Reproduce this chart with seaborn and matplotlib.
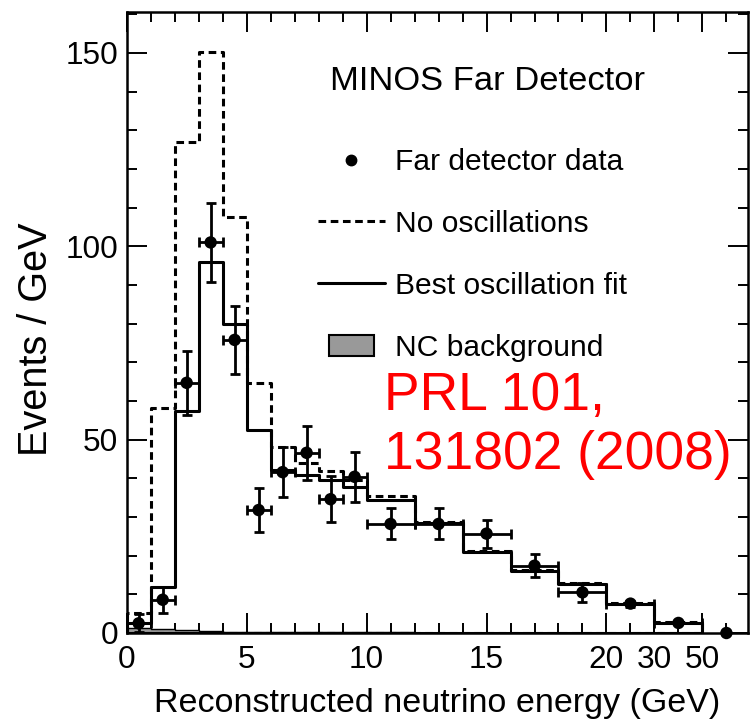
import numpy as np
import matplotlib
matplotlib.use("Agg")
import matplotlib.pyplot as plt
import seaborn as sns
from matplotlib.patches import Rectangle
from matplotlib.lines import Line2D
from matplotlib.legend_handler import HandlerPatch
from matplotlib.ticker import FixedLocator

# ---------------- data ----------------
bin_edges = [0, 1, 2, 3, 4, 5, 6, 7, 8, 9, 10, 12, 14, 16, 18, 20, 30, 50]
bin_centers = [0.5, 1.5, 2.5, 3.5, 4.5, 5.5, 6.5, 7.5, 8.5, 9.5, 11, 13, 15, 17, 19, 25, 40]
no_oscillation = [5.1, 58.1, 127.0, 150.3, 107.7, 64.6, 48.2, 43.9, 42.0, 39.6,
                  35.4, 28.6, 21.3, 16.4, 12.9, 7.8, 2.8]
best_fit = [2.5, 11.8, 57.4, 96.0, 79.9, 52.5, 42.2, 40.9, 39.6, 37.8,
            34.4, 28.4, 20.9, 16.0, 12.8, 7.6, 2.6]
nc_background = [1.2, 1.0, 0.8, 0.45, 0.35, 0.3, 0.25, 0.2, 0.2, 0.15,
                 0.15, 0.1, 0.1, 0.1, 0.05, 0.05, 0.02]

data_energy = [0.5, 1.5, 2.5, 3.5, 4.5, 5.5, 6.5, 7.5, 8.5, 9.5, 11, 13, 15, 17, 19, 25, 40, 60]
data_events = [2.5, 8.6, 64.7, 101.0, 75.8, 31.8, 41.6, 46.6, 34.6, 40.4,
               28.2, 28.2, 25.7, 17.4, 10.5, 7.6, 2.6, 0.0]
data_yerr = [2.3, 3.4, 8.3, 10.3, 8.7, 5.8, 6.5, 7.0, 6.0, 6.5,
             4.0, 4.0, 3.6, 3.0, 2.5, 0.8, 0.4, 0.0]
data_xerr = [0.5, 0.5, 0.5, 0.5, 0.5, 0.5, 0.5, 0.5, 0.5, 0.5,
             1, 1, 1, 1, 1, 5, 10, 0]

x_major_ticks = [0, 5, 10, 15, 20, 30, 50]
x_major_labels = ["0", "5", "10", "15", "20", "30", "50"]
x_minor_ticks = [1, 2, 3, 4, 6, 7, 8, 9, 11, 12, 13, 14, 16, 17, 18, 19, 25, 40, 60]
y_major_ticks = [0, 50, 100, 150]
y_minor_ticks = list(range(0, 161, 10))

# piecewise axis: linear to 20 GeV, compressed above
scale_energy = [0, 20, 30, 50, 70]
scale_pos = [0, 20, 22, 24, 26]

# ---------------- style ----------------
sns.set_theme(style="ticks")
plt.rcParams["font.family"] = ["Liberation Sans", "DejaVu Sans"]
plt.rcParams["text.color"] = "black"
plt.rcParams["axes.labelcolor"] = "black"
plt.rcParams["xtick.color"] = "black"
plt.rcParams["ytick.color"] = "black"

W, H = 752, 725
fig = plt.figure(figsize=(W / 100, H / 100), dpi=100)
ax = fig.add_axes([126.7 / W, 1 - 633 / H, (748 - 126.7) / W, (633 - 12) / H])

LW = 2.2
dash = (0, (2.5, 1.5))

# NC background (filled gray)
sns.histplot(x=bin_centers, weights=nc_background, bins=bin_edges, element="step",
             fill=True, color="#999999", facecolor="#999999", edgecolor="black",
             linewidth=1.0, alpha=1, ax=ax, zorder=1)
# No oscillations (dashed)
sns.histplot(x=bin_centers, weights=no_oscillation, bins=bin_edges, element="step",
             fill=True, color="black", facecolor="none", edgecolor="black", linewidth=LW,
             linestyle=dash, ax=ax, zorder=2)
# Best oscillation fit (solid)
sns.histplot(x=bin_centers, weights=best_fit, bins=bin_edges, element="step",
             fill=True, color="black", facecolor="none", edgecolor="black", linewidth=LW,
             ax=ax, zorder=3)
# Data points
ax.errorbar(data_energy, data_events, xerr=data_xerr, yerr=data_yerr, fmt="none",
            ecolor="black", elinewidth=2.0, capsize=3.5, capthick=2.0, zorder=4)
sns.scatterplot(x=data_energy, y=data_events, color="black", s=80, edgecolor="none",
                ax=ax, zorder=5, clip_on=False)


def fwd(x):
    return np.interp(x, scale_energy, scale_pos)


def inv(u):
    return np.interp(u, scale_pos, scale_energy)


ax.set_xscale("function", functions=(fwd, inv))
ax.set_xlim(0, 69)
ax.set_ylim(0, 160.6)

ax.xaxis.set_major_locator(FixedLocator(x_major_ticks))
ax.set_xticklabels(x_major_labels)
ax.xaxis.set_minor_locator(FixedLocator(x_minor_ticks))
ax.yaxis.set_major_locator(FixedLocator(y_major_ticks))
ax.yaxis.set_minor_locator(FixedLocator(y_minor_ticks))

for s in ax.spines.values():
    s.set_visible(True)
    s.set_linewidth(1.8)
    s.set_color("black")

ax.tick_params(which="both", direction="in", top=True, right=True,
               color="black", labelcolor="black", width=1.4)
ax.tick_params(which="major", length=14.4, labelsize=22.7, pad=6)
ax.tick_params(which="minor", length=7.2)
ax.tick_params(axis="x", which="major", pad=9)

ax.set_xlabel("Reconstructed neutrino energy (GeV)", fontsize=24.5, labelpad=9,
              color="black")
ax.set_ylabel("Events / GeV", fontsize=28.5, color="black")
ax.yaxis.set_label_coords(-0.1154, 0.4734)
ax.grid(False)

# legend
h_data = Line2D([], [], marker="o", color="black", linestyle="none", markersize=7.5)
h_noosc = Line2D([], [], color="black", linewidth=LW, linestyle=dash)
h_fit = Line2D([], [], color="black", linewidth=LW)
h_nc = Rectangle((0, 0), 1, 1, facecolor="#999999", edgecolor="black", linewidth=1.5)


def nc_box(legend, orig_handle, xdescent, ydescent, width, height, fontsize):
    bw = 33
    return Rectangle((-xdescent + (width - bw) / 2, -ydescent), bw, height)


leg = ax.legend([h_data, h_noosc, h_fit, h_nc],
                ["Far detector data", "No oscillations", "Best oscillation fit", "NC background"],
                loc="upper left", bbox_to_anchor=(318 / W, 1 - 148 / H),
                bbox_transform=fig.transFigure, frameon=False, fontsize=21.6,
                handlelength=2.23, handletextpad=0.33, labelspacing=1.13,
                borderpad=0, borderaxespad=0, numpoints=1,
                handler_map={Rectangle: HandlerPatch(patch_func=nc_box)})
for t in leg.get_texts():
    t.set_color("black")

fig.text(487.5 / W, 1 - 90 / H, "MINOS Far Detector", fontsize=24.8,
         ha="center", va="baseline", color="black")

fig.text(384 / W, 1 - 410 / H, "PRL 101,", fontsize=38.4, color="#ff0000",
         ha="left", va="baseline")
fig.text(384 / W, 1 - 468.5 / H, "131802 (2008)", fontsize=38.4, color="#ff0000",
         ha="left", va="baseline")

fig.savefig("out.png", dpi=100)
